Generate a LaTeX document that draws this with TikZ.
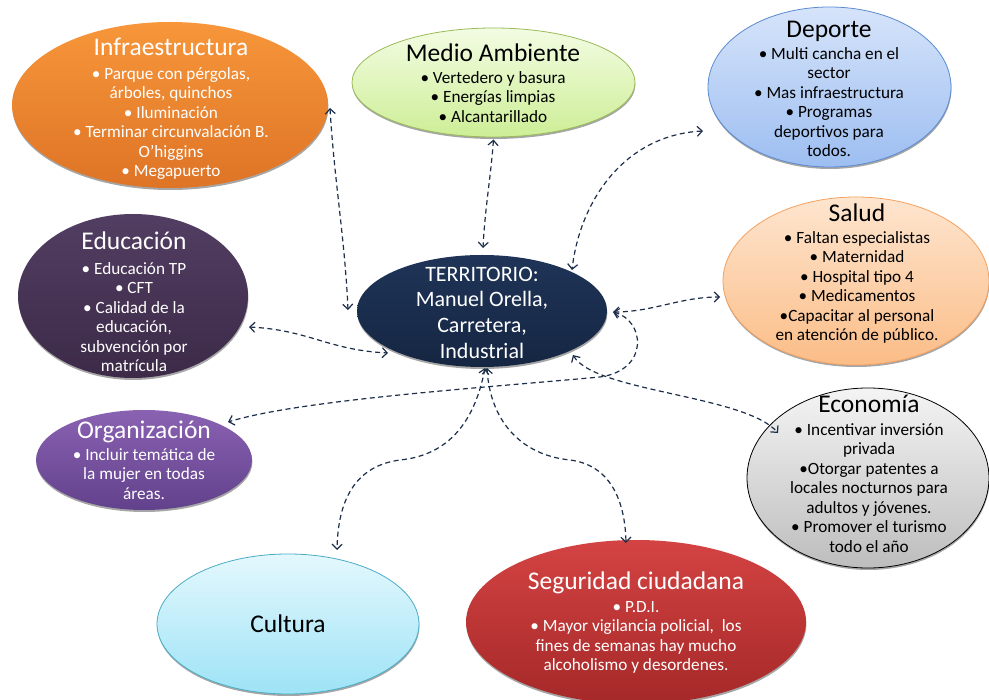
\documentclass[tikz,border=0pt]{standalone}
\usepackage{fontspec}
\setmainfont{Carlito}
\usetikzlibrary{shapes.geometric,arrows.meta,calc,shadows}
\definecolor{infraT}{HTML}{F7963A}\definecolor{infraB}{HTML}{DE7426}
\definecolor{medioT}{HTML}{F3FCE3}\definecolor{medioB}{HTML}{CDEE96}\definecolor{medioD}{HTML}{9BBB59}
\definecolor{depT}{HTML}{D6E4FA}\definecolor{depB}{HTML}{9DBEF1}\definecolor{depD}{HTML}{5B8BD0}
\definecolor{salT}{HTML}{FEE5CF}\definecolor{salB}{HTML}{FBBD87}\definecolor{salD}{HTML}{F5A260}
\definecolor{ecoT}{HTML}{F4F4F4}\definecolor{ecoB}{HTML}{BDBDBD}
\definecolor{eduT}{HTML}{523E62}\definecolor{eduB}{HTML}{3C2A48}
\definecolor{orgT}{HTML}{8A62B2}\definecolor{orgB}{HTML}{62418C}
\definecolor{terT}{HTML}{1F3458}\definecolor{terB}{HTML}{152642}
\definecolor{culT}{HTML}{E4F8FD}\definecolor{culB}{HTML}{9DE3F6}\definecolor{culD}{HTML}{4BACC6}
\definecolor{segT}{HTML}{D44343}\definecolor{segB}{HTML}{A52828}
\definecolor{lnk}{HTML}{1C2E4A}
\begin{document}
\begin{tikzpicture}[x=1pt,y=-1pt,
  blob/.style={ellipse, inner sep=0pt,
    drop shadow={shadow xshift=0.4pt, shadow yshift=-2pt, fill=black, opacity=0.35}},
  ttl/.style={font=\fontsize{25.5}{29}\selectfont, anchor=base, inner sep=0pt},
  bdy/.style={font=\fontsize{17.2}{19.5}\selectfont, align=center, anchor=north, inner sep=0pt},
  link/.style={draw=lnk, line width=1.2pt, dash pattern=on 5pt off 3.5pt,
    {Straight Barb[length=5pt,width=10pt]}-{Straight Barb[length=5pt,width=10pt]}}]
\useasboundingbox (0,0) rectangle (989,700);
\fill[white] (0,0) rectangle (989,700);

% ellipses
\node[blob, minimum width=316pt, minimum height=166pt, top color=infraT, bottom color=infraB] (infra) at (170,105) {};
\node[blob, minimum width=283pt, minimum height=109pt, top color=medioT, bottom color=medioB, draw=medioD, line width=0.8pt] (medio) at (493.5,82.5) {};
\node[blob, minimum width=243pt, minimum height=160pt, top color=depT, bottom color=depB, draw=depD, line width=0.8pt] (deporte) at (829.5,87) {};
\node[blob, minimum width=266pt, minimum height=168pt, top color=salT, bottom color=salB, draw=salD, line width=0.8pt] (salud) at (856,281) {};
\node[blob, minimum width=242pt, minimum height=180pt, top color=ecoT, bottom color=ecoB, draw=black, line width=0.8pt] (econ) at (868,478) {};
\node[blob, minimum width=230pt, minimum height=164pt, top color=eduT, bottom color=eduB] (edu) at (133,296) {};
\node[blob, minimum width=216pt, minimum height=100pt, top color=orgT, bottom color=orgB] (org) at (144,460) {};
\node[blob, minimum width=250pt, minimum height=112pt, top color=terT, bottom color=terB] (terr) at (482,311) {};
\node[blob, minimum width=262pt, minimum height=140pt, top color=culT, bottom color=culB, draw=culD, line width=0.8pt] (cult) at (288,624) {};
\node[blob, minimum width=340pt, minimum height=164pt, top color=segT, bottom color=segB] (segu) at (636,622) {};

% texts
\node[ttl, text=white] (tinfra) at (171,56) {Infraestructura};
\node[bdy, text=white] (binfra) at (171,65.4) {\strut• Parque con pérgolas,\\árboles, quinchos\\• Iluminación\\• Terminar circunvalación B.\\O’higgins\\• Megapuerto};

\node[ttl] (tmedio) at (493,62) {Medio Ambiente};
\node[bdy] (bmedio) at (493,69.4) {\strut• Vertedero y basura\\• Energías limpias\\• Alcantarillado};

\node[ttl] (tdep) at (829,38) {Deporte};
\node[bdy] (bdep) at (829,45.4) {\strut• Multi cancha en el\\sector\\• Mas infraestructura\\• Programas\\deportivos para\\todos.};

\node[ttl] (tsal) at (857,222) {Salud};
\node[bdy] (bsal) at (857,229.4) {\strut• Faltan especialistas\\• Maternidad\\• Hospital tipo 4\\• Medicamentos\\•Capacitar al personal\\en atención de público.};

\node[ttl] (teco) at (869,413) {Economía};
\node[bdy] (beco) at (869,421.4) {\strut• Incentivar inversión\\privada\\•Otorgar patentes a\\locales nocturnos para\\adultos y jóvenes.\\• Promover el turismo\\todo el año};

\node[ttl, text=white] (tedu) at (134,250) {Educación};
\node[bdy, text=white] (bedu) at (134,260.4) {\strut• Educación TP\\• CFT\\• Calidad de la\\educación,\\subvención por\\matrícula};

\node[ttl, text=white] (torg) at (144,439) {Organización};
\node[bdy, text=white] (borg) at (144,446.4) {\strut• Incluir temática de\\la mujer en todas\\áreas.};

\node[text=white, font=\fontsize{22}{25.7}\selectfont, align=center, anchor=north, inner sep=0pt] (tterr) at (482,263) {\strut TERRITORIO:\\Manuel Orella,\\Carretera,\\Industrial};

\node[ttl] (tcult) at (288,632) {Cultura};

\node[ttl, text=white] (tsegu) at (636,590) {Seguridad ciudadana};
\node[bdy, text=white] (bsegu) at (636,598.4) {\strut• P.D.I.\\• Mayor vigilancia policial,\ \ los\\fines de semanas hay mucho\\alcoholismo y desordenes.};

% connectors
\draw[link] ($(infra)+(160,3)$) .. controls +(4,70) and +(-3,-70) .. ($(terr)+(-134,-1)$);
\draw[link] ($(edu)+(116,31)$) .. controls +(60,3) and +(-60,-3) .. ($(terr)+(-94,42)$);
\draw[link] ($(medio)+(0,57)$) .. controls +(-3,40) and +(2,-40) .. ($(terr)+(1,-63)$);
\draw[link] ($(deporte)+(-126.5,44)$) .. controls +(-78,4) and +(8,-70) .. ($(terr)+(90,-41)$);
\draw[link] ($(terr)+(131,1)$) .. controls +(40,0) and +(-40,0) .. ($(salud)+(-136,16)$);
\draw[link] ($(terr)+(131,1)$) .. controls +(32,8) and +(50,-7) .. ($(terr)+(118,66)$)
   .. controls +(-120,11) and +(72,-22) .. ($(org)+(84,-38)$);
\draw[link] ($(terr)+(91,44)$) .. controls +(22,37) and +(-33,-38) .. ($(econ)+(-90,-45)$);
\draw[link] ($(terr)+(3,57)$) .. controls +(-10,52) and +(50,-5) .. ($(terr)+(-82,149)$)
   .. controls +(-45,6) and +(1,-50) .. ($(cult)+(49,-74)$);
\draw[link] ($(terr)+(5,57)$) .. controls +(3,52) and +(-50,-5) .. ($(terr)+(88,149)$)
   .. controls +(40,5) and +(-1,-43) .. ($(segu)+(-10,-79)$);
\end{tikzpicture}
\end{document}
